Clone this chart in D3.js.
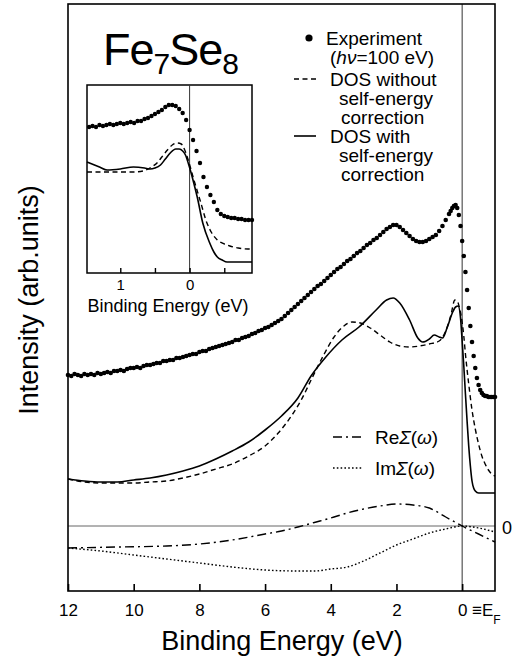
<!DOCTYPE html>
<html><head><meta charset="utf-8">
<script src="https://cdn.jsdelivr.net/npm/d3@7"></script>
<style>
body{margin:0;background:#fff}
svg{display:block}
text{font-family:"Liberation Sans",Arial,Helvetica,sans-serif;fill:#000}
</style>
</head><body>
<svg id="c" width="526" height="669"></svg>
<script>
// ---------------- data ----------------
const xTicks = [12, 10, 8, 6, 4, 2, 0];
const xTickLabels = ["12", "10", "8", "6", "4", "2", "0"];
const insetTicks = [1, 0.5, 0, -0.5];
const insetTickLabels = ["1", "", "0", ""];

// Experiment (main panel), binding energy (eV) and intensity (arb. units)
const expE = [12.0,11.9,11.8,11.7,11.6,11.5,11.4,11.3,11.2,11.1,11.0,10.9,10.8,10.7,10.6,10.5,10.4,10.3,10.2,10.1,
  10.0,9.9,9.8,9.7,9.6,9.5,9.4,9.3,9.2,9.1,9.0,8.9,8.8,8.7,8.6,8.5,8.4,8.3,8.2,8.1,
  8.0,7.9,7.8,7.7,7.6,7.5,7.4,7.3,7.2,7.1,7.0,6.9,6.8,6.7,6.6,6.5,6.4,6.3,6.2,6.1,
  6.0,5.9,5.8,5.7,5.6,5.5,5.4,5.3,5.2,5.1,5.0,4.9,4.8,4.7,4.6,4.5,4.4,4.3,4.2,4.1,
  4.0,3.9,3.8,3.7,3.6,3.5,3.4,3.3,3.2,3.1,3.0,2.9,2.8,2.7,2.6,2.5,2.4,2.3,2.2,2.1,
  2.0,1.9,1.8,1.7,1.6,1.5,1.4,1.3,1.2,1.1,1.0,0.9,0.8,0.7,0.6,0.5,0.4,
  0.35,0.30,0.25,0.20,0.15,0.10,0.05,0.00,-0.05,-0.10,-0.15,-0.20,-0.25,-0.30,-0.35,-0.40,
  -0.45,-0.50,-0.55,-0.60,-0.65,-0.70,-0.75,-0.80,-0.85,-0.90,-0.95,-1.00];
const expI = [151,150,152,151,150,152,151,152,151,153,152,153,154,153,155,155,156,155,157,158,
  158,159,158,160,161,161,162,163,163,165,165,166,166,168,168,169,170,171,172,172,
  174,175,175,177,178,179,180,181,182,183,184,186,186,188,189,190,192,193,195,196,
  198,199,201,203,205,207,210,213,216,219,222,225,228,231,234,237,240,242,245,248,
  251,254,257,259,262,265,267,270,273,275,278,281,283,286,288,291,294,297,299,301,
  301,299,296,293,290,287,285,284,284,285,287,289,291,295,300,306,312,
  315,318,320,321,318,311,300,285,270,254,236,218,200,184,170,158,
  148,141,136,133,131,130,130,129,129,129,129,129];

// DOS with self-energy correction (solid)
const dosWithE = [12,11.5,11,10.5,10,9.5,9,8.5,8,7.5,7,6.5,6,5.5,5,4.6,4.15,3.66,3.14,2.62,2.3,2.1,1.9,1.6,1.35,1.2,1.0,0.85,0.7,0.6,0.45,0.3,0.2,0.12,0.05,0.0,-0.05,-0.1,-0.15,-0.2,-0.25,-0.3,-0.35,-0.4,-0.5,-0.7,-1.0];
const dosWithI = [47,45,44,44,46,48,51,55,60,67,75,84,96,110,128,150,169,186,199,216,226,228,223,206,188,184,187,191,189,188,199,213,219,220,208,185,160,132,105,80,60,45,38,35,33,33,33];

// DOS without self-energy correction (dashed)
const dosWithoutE = [12,11.5,11,10.5,10,9.5,9,8.5,8,7.5,7,6.5,6,5.6,5.2,4.9,4.6,4.2,3.9,3.6,3.35,3.1,2.8,2.5,2.2,1.9,1.6,1.3,1.0,0.7,0.5,0.35,0.22,0.15,0.08,0.03,-0.05,-0.1,-0.2,-0.3,-0.4,-0.5,-0.6,-0.7,-0.8,-0.9,-1.0];
const dosWithoutI = [47,44,43,43,43,44,45,48,52,57,62,70,80,93,110,126,146,172,189,200,204,203,198,191,184,180,179,180,182,185,195,210,226,225,218,210,190,172,142,116,97,82,70,62,56,52,50];

// Re Sigma (dash-dot) and Im Sigma (dotted)
const reE = [12,10.5,9,8,7,6,5.5,5,4.5,4,3.5,3,2.5,2,1.5,1,0.5,0,-0.5,-1];
const reI = [-22,-21,-20,-18,-14,-8,-5,-1,3.5,8,13,17,20,22,21,18,9,0,-8,-16];
const imE = [12,11,10,9,8,7,6,5,4.5,4,3.5,3,2.5,2,1.5,1,0.5,0,-0.5,-1];
const imI = [-22,-25,-29,-33,-37,-41,-44,-45,-45,-43,-41,-35,-27,-19,-13,-7,-3,0,-2,-6];

// Inset: experiment
const inExpE = [1.45,1.40,1.35,1.30,1.25,1.20,1.15,1.10,1.05,1.00,0.95,0.90,0.85,0.80,0.75,0.70,0.65,0.60,0.55,0.50,
  0.45,0.40,0.35,0.30,0.25,0.20,0.15,0.10,0.05,0.00,-0.05,-0.10,-0.15,-0.20,-0.25,-0.30,-0.35,-0.40,-0.45,-0.50,
  -0.55,-0.60,-0.65,-0.70,-0.75,-0.80,-0.85,-0.90];
const inExpI = [146,147,146,148,147,148,149,148,149,150,149,150,151,150,152,152,154,155,157,159,
  161,163,166,168,168,167,164,160,153,143,133,122,110,96,86,78,71,63,59,57,
  56,55,55,54,54,53,53,53];
// Inset: DOS without (dashed)
const inWithoutE = [1.48,1.2,1.0,0.8,0.67,0.55,0.47,0.4,0.32,0.25,0.18,0.12,0.09,0.02,-0.05,-0.15,-0.25,-0.32,-0.4,-0.5,-0.58,-0.7,-0.84,-0.9];
const inWithoutI = [101,101,101,101,102,106,110,116,123,128,130,129,126,113,96,73,50,40,33,29,27,25,24,24];
// Inset: DOS with (solid)
const inWithE = [1.48,1.3,1.19,1.0,0.81,0.65,0.57,0.5,0.42,0.35,0.28,0.2,0.15,0.1,0.06,0.02,-0.01,-0.06,-0.11,-0.19,-0.29,-0.35,-0.4,-0.47,-0.54,-0.7,-0.9];
const inWithI = [111,106,103,104,106,105,104,105,108,114,120,124,124,122,118,110,103,90,76,50,30,21,16,13,11,11,11];

// ---------------- drawing ----------------
const svg = d3.select("#c");
const zip = (a, b) => a.map((v, i) => [v, b[i]]);

const x = d3.scaleLinear().domain([12, -1]).range([68, 495]);
const y = d3.scaleLinear().domain([-65, 522]).range([591, 4]);

// reference lines
svg.append("line").attr("x1", 68).attr("x2", 495).attr("y1", y(0)).attr("y2", y(0))
  .attr("stroke", "#666").attr("stroke-width", 1);
svg.append("line").attr("x1", x(0)).attr("x2", x(0)).attr("y1", 4).attr("y2", 591)
  .attr("stroke", "#333").attr("stroke-width", 1);

// frame
svg.append("rect").attr("x", 68).attr("y", 4).attr("width", 427).attr("height", 587)
  .attr("fill", "none").attr("stroke", "#000").attr("stroke-width", 1.6);

// x axis
const ax = svg.append("g").attr("transform", "translate(0,591)")
  .call(d3.axisBottom(x).tickValues(xTicks).tickSize(-7).tickPadding(13)
    .tickFormat((d, i) => xTickLabels[i]));
ax.select(".domain").remove();
ax.selectAll(".tick line").attr("stroke", "#000").attr("stroke-width", 1.6);
ax.selectAll(".tick text").attr("font-size", 17).attr("fill", "#000")
  .style("font-family", '"Liberation Sans",Arial,sans-serif');

// ≡E_F
const ef = svg.append("text").attr("x", 472).attr("y", 616).attr("font-size", 17).attr("fill", "#000");
ef.append("tspan").attr("fill", "#000").text("≡E");
ef.append("tspan").attr("fill", "#000").attr("font-size", 12).attr("dy", 8).text("F");

// zero label
svg.append("text").attr("x", 502).attr("y", 534).attr("font-size", 18).text("0");

// axis titles
svg.append("text").attr("x", 282).attr("y", 650).attr("text-anchor", "middle")
  .attr("font-size", 27).text("Binding Energy (eV)");
svg.append("text").attr("transform", "translate(38,300) rotate(-90)").attr("text-anchor", "middle")
  .attr("font-size", 27).text("Intensity (arb.units)");

// curves
const line = d3.line().x(d => x(d[0])).y(d => y(d[1])).curve(d3.curveMonotoneX);
svg.append("path").datum(zip(dosWithoutE, dosWithoutI)).attr("d", line)
  .attr("fill", "none").attr("stroke", "#000").attr("stroke-width", 1.4).attr("stroke-dasharray", "5,3.5");
svg.append("path").datum(zip(dosWithE, dosWithI)).attr("d", line)
  .attr("fill", "none").attr("stroke", "#000").attr("stroke-width", 1.6);
svg.append("path").datum(zip(reE, reI)).attr("d", line)
  .attr("fill", "none").attr("stroke", "#000").attr("stroke-width", 1.4).attr("stroke-dasharray", "9,4,2,4");
svg.append("path").datum(zip(imE, imI)).attr("d", line)
  .attr("fill", "none").attr("stroke", "#000").attr("stroke-width", 1.4).attr("stroke-dasharray", "1.6,2.2");
svg.append("g").selectAll("circle").data(zip(expE, expI)).join("circle")
  .attr("cx", d => x(d[0])).attr("cy", d => y(d[1])).attr("r", 2.3).attr("fill", "#000");

// title
const t = svg.append("text").attr("x", 103).attr("y", 65).attr("font-size", 45).attr("letter-spacing", -1);
t.append("tspan").text("Fe");
t.append("tspan").attr("font-size", 30).attr("dy", 9).text("7");
t.append("tspan").attr("dy", -9).text("Se");
t.append("tspan").attr("font-size", 30).attr("dy", 9).text("8");

// legend (top right)
const lg = svg.append("g").attr("font-size", 19);
lg.append("circle").attr("cx", 309).attr("cy", 38).attr("r", 3.6).attr("fill", "#000");
lg.append("text").attr("x", 326).attr("y", 45).text("Experiment");
const hv = lg.append("text").attr("x", 330).attr("y", 64);
hv.append("tspan").text("(");
hv.append("tspan").attr("font-style", "italic").text("hν");
hv.append("tspan").text("=100 eV)");
lg.append("line").attr("x1", 294).attr("x2", 316).attr("y1", 79).attr("y2", 79)
  .attr("stroke", "#000").attr("stroke-width", 1.4).attr("stroke-dasharray", "5,3.5");
lg.append("text").attr("x", 330).attr("y", 86).text("DOS without");
lg.append("text").attr("x", 339).attr("y", 105).text("self-energy");
lg.append("text").attr("x", 341).attr("y", 124).text("correction");
lg.append("line").attr("x1", 294).attr("x2", 316).attr("y1", 136).attr("y2", 136)
  .attr("stroke", "#000").attr("stroke-width", 1.6);
lg.append("text").attr("x", 330).attr("y", 143).text("DOS with");
lg.append("text").attr("x", 339).attr("y", 162).text("self-energy");
lg.append("text").attr("x", 341).attr("y", 181).text("correction");

// legend (self-energy)
const lg2 = svg.append("g").attr("font-size", 19);
lg2.append("line").attr("x1", 333).attr("x2", 363).attr("y1", 437).attr("y2", 437)
  .attr("stroke", "#000").attr("stroke-width", 1.4).attr("stroke-dasharray", "9,4,2,4");
const re = lg2.append("text").attr("x", 375).attr("y", 444);
re.append("tspan").text("Re");
re.append("tspan").attr("font-style", "italic").text("Σ");
re.append("tspan").text("(");
re.append("tspan").attr("font-style", "italic").text("ω");
re.append("tspan").text(")");
lg2.append("line").attr("x1", 333).attr("x2", 363).attr("y1", 468).attr("y2", 468)
  .attr("stroke", "#000").attr("stroke-width", 1.4).attr("stroke-dasharray", "1.6,2.2");
const im = lg2.append("text").attr("x", 375).attr("y", 475);
im.append("tspan").text("Im");
im.append("tspan").attr("font-style", "italic").text("Σ");
im.append("tspan").text("(");
im.append("tspan").attr("font-style", "italic").text("ω");
im.append("tspan").text(")");

// ---------------- inset ----------------
const ix = d3.scaleLinear().domain([1.48, -0.9]).range([87, 252]);
const iy = d3.scaleLinear().domain([0, 188]).range([273, 85]);
const ig = svg.append("g");
ig.append("rect").attr("x", 87).attr("y", 85).attr("width", 165).attr("height", 188)
  .attr("fill", "#fff").attr("stroke", "#000").attr("stroke-width", 1.5);
ig.append("line").attr("x1", ix(0)).attr("x2", ix(0)).attr("y1", 85).attr("y2", 273)
  .attr("stroke", "#333").attr("stroke-width", 1);
const iax = ig.append("g").attr("transform", "translate(0,273)")
  .call(d3.axisBottom(ix).tickValues(insetTicks).tickSize(-5).tickPadding(6)
    .tickFormat((d, i) => insetTickLabels[i]));
iax.select(".domain").remove();
iax.selectAll(".tick line").attr("stroke", "#000").attr("stroke-width", 1.4);
iax.selectAll(".tick text").attr("font-size", 15).attr("fill", "#000")
  .style("font-family", '"Liberation Sans",Arial,sans-serif');
ig.append("text").attr("x", 168).attr("y", 312).attr("text-anchor", "middle")
  .attr("font-size", 18).text("Binding Energy (eV)");
const iline = d3.line().x(d => ix(d[0])).y(d => iy(d[1])).curve(d3.curveMonotoneX);
ig.append("path").datum(zip(inWithoutE, inWithoutI)).attr("d", iline)
  .attr("fill", "none").attr("stroke", "#000").attr("stroke-width", 1.4).attr("stroke-dasharray", "5,3.5");
ig.append("path").datum(zip(inWithE, inWithI)).attr("d", iline)
  .attr("fill", "none").attr("stroke", "#000").attr("stroke-width", 1.6);
ig.append("g").selectAll("circle").data(zip(inExpE, inExpI)).join("circle")
  .attr("cx", d => ix(d[0])).attr("cy", d => iy(d[1])).attr("r", 2.2).attr("fill", "#000");
</script>
</body></html>
